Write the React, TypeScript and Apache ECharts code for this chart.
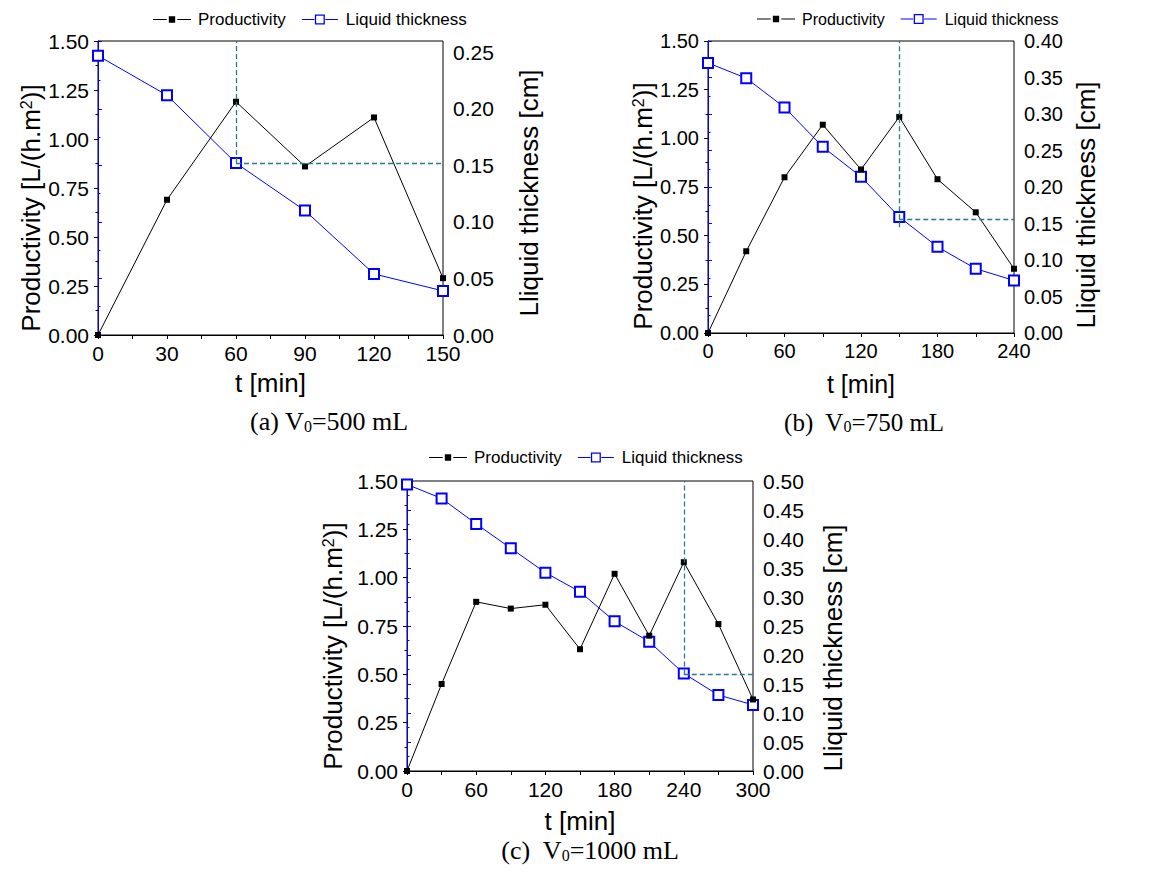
import React, { useEffect, useRef } from "react";
import * as echarts from "echarts";

// ---------- data ----------
const timeA = [0, 30, 60, 90, 120, 150];
const productivityA = [0, 0.69, 1.19, 0.86, 1.11, 0.29];
const thicknessA = [0.247, 0.212, 0.152, 0.11, 0.054, 0.039];

const timeB = [0, 30, 60, 90, 120, 150, 180, 210, 240];
const productivityB = [0, 0.42, 0.8, 1.07, 0.84, 1.11, 0.79, 0.62, 0.33];
const thicknessB = [0.37, 0.349, 0.309, 0.255, 0.214, 0.159, 0.118, 0.088, 0.072];

const timeC = [0, 30, 60, 90, 120, 150, 180, 210, 240, 270, 300];
const productivityC = [0, 0.45, 0.875, 0.84, 0.86, 0.63, 1.02, 0.7, 1.08, 0.76, 0.37];
const thicknessC = [0.494, 0.47, 0.426, 0.384, 0.342, 0.309, 0.258, 0.223, 0.168, 0.131, 0.114];

const xMax = [150, 240, 300];
const xInterval = [30, 60, 60];
const leftMax = 1.5;
const leftInterval = 0.25;
const rightMax = [0.26, 0.4, 0.5];
const rightInterval = 0.05;

const guideX = [60, 150, 240];
const guideLevel = [0.152, 0.156, 0.1665];
const guideBottom = [0.152, 0.145, 0.1665];

const captionLetter = ["(a)", "(b) ", "(c) "];
const captionVolume = ["500", "750", "1000"];

const seriesNames = ["Productivity", "Liquid thickness"];
const xName = "t [min]";
const rightName = "Lliquid thickness [cm]";

// ---------- styling / layout ----------
const BLUE = "#0000ff";
const TEAL = "#2a7a96";
const SANS = "Liberation Sans";
const SERIF = "Liberation Serif";

const layouts = [
  {
    grid: { left: 98, top: 41, width: 345, height: 294 },
    legend: { left: 148, top: 6 },
    tickFs: 21, xNameFs: 26, legendFs: 17,
    xNameGap: 35, leftGap: 54, leftShift: 20, rightGap: 70, rightShift: 5,
    caption: { x: 329, y: 421, fs: 26 },
  },
  {
    grid: { left: 708, top: 41, width: 306, height: 292 },
    legend: { left: 752, top: 6 },
    tickFs: 20, xNameFs: 25, legendFs: 16,
    xNameGap: 38, leftGap: 50, leftShift: 19, rightGap: 56, rightShift: 18,
    caption: { x: 864, y: 422, fs: 25 },
  },
  {
    grid: { left: 407, top: 481, width: 346, height: 290 },
    legend: { left: 424, top: 444 },
    tickFs: 21, xNameFs: 26, legendFs: 17,
    xNameGap: 37, leftGap: 61, leftShift: 20, rightGap: 64, rightShift: 22,
    caption: { x: 590, y: 850, fs: 26 },
  },
];

const prodIcon = "path://M0,4.5h13v1h-13zM15,2h6v6h-6zM23,4.5h13v1h-13z";
const thickIcon =
  "path://M0,4.5h12.5v1h-12.5zM23.5,4.5h12.5v1h-12.5zM13,0h10v10h-10zM14.3,1.3v7.4h7.4v-7.4z";

function buildOption() {
  const times = [timeA, timeB, timeC];
  const prods = [productivityA, productivityB, productivityC];
  const thicks = [thicknessA, thicknessB, thicknessC];

  const grids: any[] = [];
  const xAxes: any[] = [];
  const yAxes: any[] = [];
  const legends: any[] = [];
  const series: any[] = [];
  const graphics: any[] = [];

  layouts.forEach((L, i) => {
    grids.push({
      ...L.grid,
      show: true,
      borderColor: "#000",
      borderWidth: 1,
      backgroundColor: "transparent",
      containLabel: false,
    });

    xAxes.push({
      type: "value",
      gridIndex: i,
      position: "bottom",
      min: 0,
      max: xMax[i],
      interval: xInterval[i],
      splitLine: { show: false },
      axisLine: { show: true, lineStyle: { color: "#000", width: 1 } },
      axisTick: { show: true, inside: false, length: 4, lineStyle: { color: "#000" } },
      minorTick: { show: true, splitNumber: 2, length: 3, lineStyle: { color: "#000" } },
      axisLabel: { color: "#000", fontSize: L.tickFs, fontFamily: SANS, margin: 8 },
      name: xName,
      nameLocation: "middle",
      nameGap: L.xNameGap,
      nameTextStyle: { color: "#000", fontSize: L.xNameFs, fontFamily: SANS },
    });
    xAxes.push({
      type: "value",
      gridIndex: i,
      position: "top",
      min: 0,
      max: xMax[i],
      interval: xInterval[i] / 2,
      splitLine: { show: false },
      axisLine: { show: true, lineStyle: { color: "#000", width: 1 } },
      axisTick: { show: true, inside: true, length: 4, lineStyle: { color: "#000" } },
      axisLabel: { show: false },
    });

    yAxes.push({
      type: "value",
      gridIndex: i,
      position: "left",
      min: 0,
      max: leftMax,
      interval: leftInterval,
      splitLine: { show: false },
      axisLine: { show: true, lineStyle: { color: "#000", width: 1 } },
      axisTick: { show: true, inside: false, length: 4, lineStyle: { color: "#000" } },
      minorTick: { show: true, splitNumber: 2, length: 2.5, lineStyle: { color: "#000" } },
      axisLabel: {
        color: "#000",
        fontSize: L.tickFs,
        fontFamily: SANS,
        margin: 9,
        formatter: (v: number) => v.toFixed(2),
      },
      name: "Productivity [L/(h.m{sup|2})]",
      nameLocation: "middle",
      nameRotate: 90,
      nameGap: L.leftGap,
      nameTextStyle: {
        color: "#000",
        fontSize: 26,
        fontFamily: SANS,
        padding: [0, 2 * L.leftShift, 0, 0],
        rich: {
          sup: { fontSize: 16, fontFamily: SANS, color: "#000", verticalAlign: "top", lineHeight: 26 },
        },
      },
    });
    yAxes.push({
      type: "value",
      gridIndex: i,
      position: "right",
      offset: 3,
      min: 0,
      max: rightMax[i],
      interval: rightInterval,
      splitLine: { show: false },
      axisLine: { show: true, lineStyle: { color: BLUE, width: 1 } },
      axisTick: { show: true, inside: false, length: 4, lineStyle: { color: BLUE } },
      minorTick: { show: true, splitNumber: 2, length: 2.5, lineStyle: { color: BLUE } },
      axisLabel: {
        color: "#000",
        fontSize: L.tickFs,
        fontFamily: SANS,
        margin: 7,
        showMaxLabel: i === 0 ? false : true,
        formatter: (v: number) => v.toFixed(2),
      },
      name: rightName,
      nameLocation: "middle",
      nameRotate: 90,
      nameGap: L.rightGap,
      nameTextStyle: {
        color: "#000",
        fontSize: 26,
        fontFamily: SANS,
        padding: [0, 2 * L.rightShift, 0, 0],
      },
    });

    legends.push({
      left: L.legend.left,
      top: L.legend.top,
      orient: "horizontal",
      itemWidth: 38,
      itemHeight: 10,
      itemGap: 16,
      symbolKeepAspect: true,
      selectedMode: false,
      textStyle: { color: "#000", fontSize: L.legendFs, fontFamily: SANS, padding: [0, 0, 0, 2] },
      data: [
        { name: seriesNames[0], icon: prodIcon, itemStyle: { color: "#000", borderWidth: 0 } },
        { name: seriesNames[1], icon: thickIcon, itemStyle: { color: BLUE, borderWidth: 0 } },
      ],
    });

    const t = times[i];
    series.push({
      name: seriesNames[0],
      type: "line",
      xAxisIndex: 2 * i,
      yAxisIndex: 2 * i,
      data: t.map((x, k) => [x, prods[i][k]]),
      symbol: "rect",
      symbolSize: 6,
      lineStyle: { color: "#000", width: 1 },
      itemStyle: { color: "#000" },
      emphasis: { disabled: true },
      z: 3,
    });
    series.push({
      name: seriesNames[1],
      type: "line",
      xAxisIndex: 2 * i,
      yAxisIndex: 2 * i + 1,
      data: t.map((x, k) => [x, thicks[i][k]]),
      symbol: "emptyRect",
      symbolSize: 10,
      lineStyle: { color: BLUE, width: 1 },
      itemStyle: { color: BLUE, borderWidth: 1 },
      emphasis: { disabled: true },
      z: 2,
      markLine: {
        silent: true,
        symbol: ["none", "none"],
        label: { show: false },
        lineStyle: { color: TEAL, type: [5, 3], width: 1.3 },
        emphasis: { disabled: true },
        data: [
          [{ coord: [guideX[i], guideBottom[i]] }, { coord: [guideX[i], rightMax[i]] }],
          [{ coord: [guideX[i], guideLevel[i]] }, { coord: [xMax[i], guideLevel[i]] }],
        ],
      },
    });

    graphics.push({
      type: "text",
      x: L.caption.x,
      y: L.caption.y,
      style: {
        text: `${captionLetter[i]} V{sub|0}=${captionVolume[i]} mL`,
        fontSize: L.caption.fs,
        fontFamily: SERIF,
        fill: "#000",
        align: "center",
        verticalAlign: "middle",
        rich: {
          sub: { fontSize: 16, fontFamily: SERIF, fill: "#000", verticalAlign: "bottom", padding: [6, 0, 0, 0] },
        },
      },
    });
  });

  return {
    animation: false,
    backgroundColor: "#fff",
    grid: grids,
    xAxis: xAxes,
    yAxis: yAxes,
    legend: legends,
    series,
    graphic: graphics,
  };
}

export default function App() {
  const ref = useRef<HTMLDivElement>(null);
  useEffect(() => {
    if (!ref.current) return;
    const chart = echarts.init(ref.current, undefined, { renderer: "svg" });
    chart.setOption(buildOption() as any);
    return () => chart.dispose();
  }, []);
  return (
    <div
      ref={ref}
      style={{ position: "fixed", left: 0, top: 0, width: 1166, height: 874, background: "#fff" }}
    />
  );
}
